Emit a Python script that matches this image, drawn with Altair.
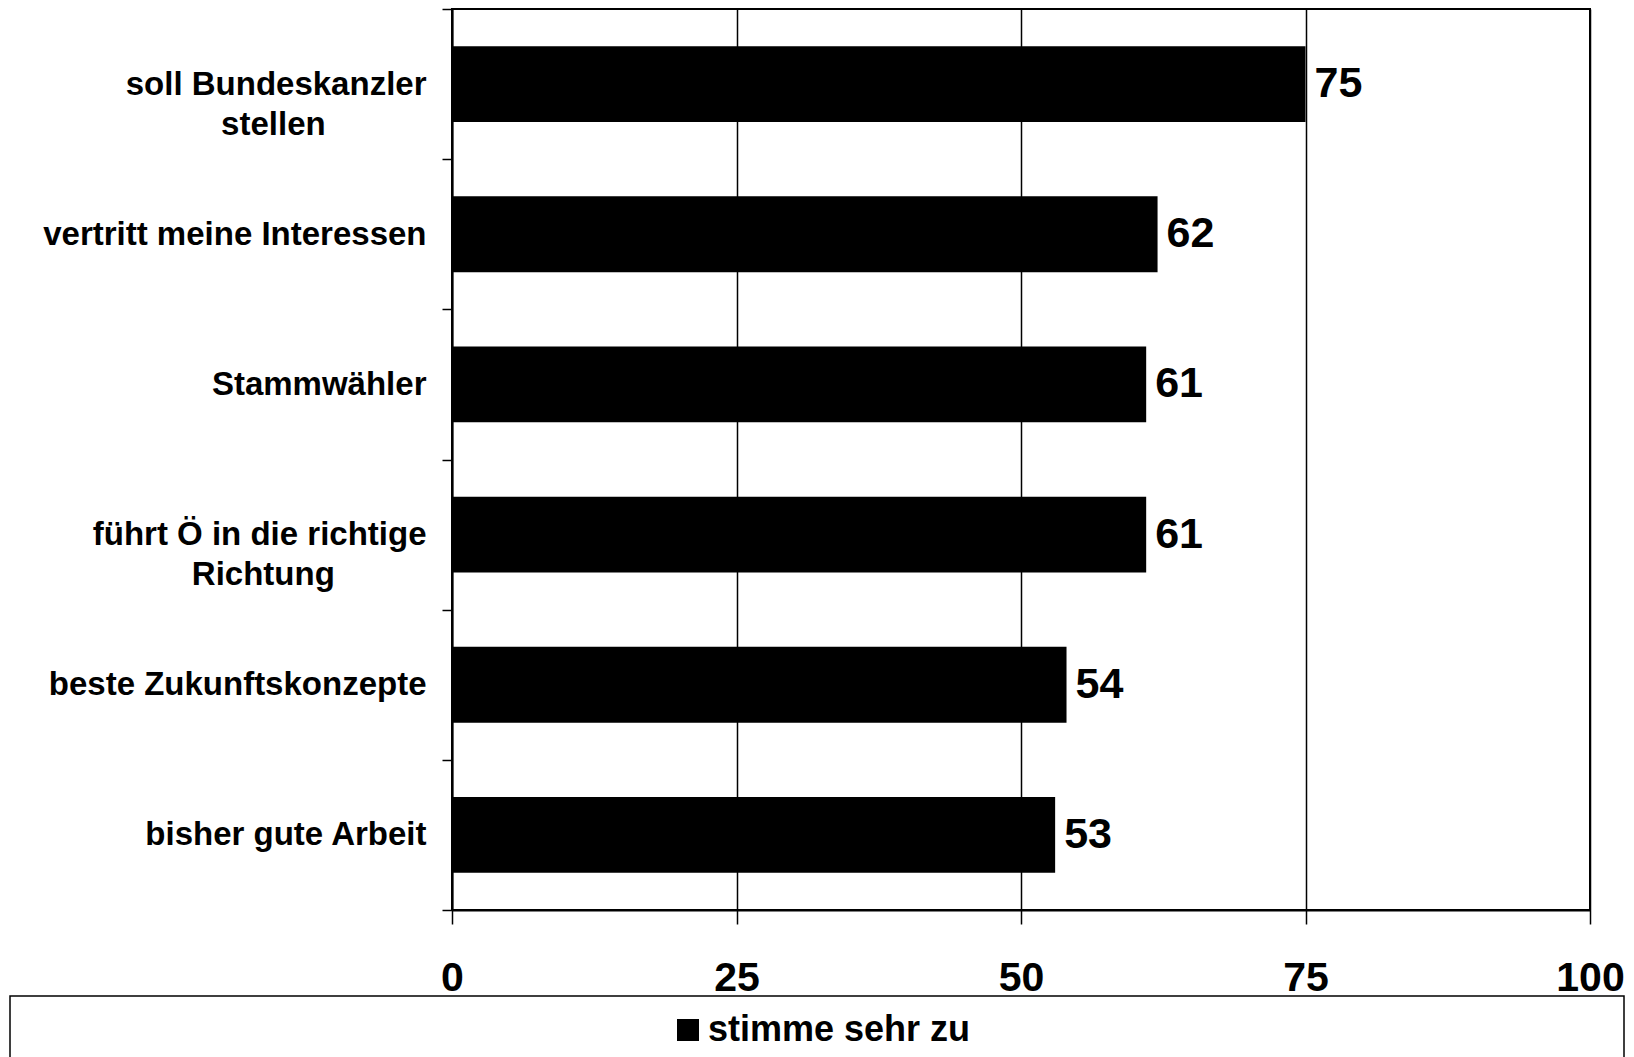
import altair as alt
import pandas as pd

categories = [
    "soll Bundeskanzler\nstellen",
    "vertritt meine Interessen",
    "Stammwähler",
    "führt Ö in die richtige\nRichtung",
    "beste Zukunftskonzepte",
    "bisher gute Arbeit",
]
values = [75, 62, 61, 61, 54, 53]
series_name = "stimme sehr zu"
x_ticks = [0, 25, 50, 75, 100]

df = pd.DataFrame({
    "Kategorie": categories,
    "Wert": values,
    "Serie": [series_name] * len(values),
})

FONT = "Liberation Sans"
NB = "\u00a0"
ZW = "\u200b"  # keeps trailing non-breaking spaces from being trimmed

# multi-line labels: second line padded so it sits centred under the first
label_expr = (
    "indexof(datum.label, 'Bundeskanzler') >= 0 ? "
    "[split(datum.label, '\\n')[0], split(datum.label, '\\n')[1] + '" + NB * 11 + ZW + "'] : "
    "indexof(datum.label, 'Richtung') >= 0 ? "
    "[split(datum.label, '\\n')[0], split(datum.label, '\\n')[1] + '" + NB * 10 + ZW + "'] : datum.label"
)

y_enc = alt.Y(
    "Kategorie:N", sort=categories, title=None,
    scale=alt.Scale(paddingInner=0, paddingOuter=0),
    axis=alt.Axis(
        tickBand="extent", domainColor="black", domainWidth=2,
        tickColor="black", tickWidth=1.5, tickSize=10,
        labelFont=FONT, labelFontWeight="bold", labelFontSize=33,
        labelColor="black", labelLineHeight=40, labelLimit=600,
        labelExpr=label_expr, labelPadding=16, labelAlign="right",
    ),
)

x_enc = alt.X(
    "Wert:Q", title=None,
    scale=alt.Scale(domain=[0, 100], nice=False, zero=True),
    axis=alt.Axis(
        values=x_ticks, grid=True, gridColor="black", gridWidth=1.5, gridOpacity=1,
        domainColor="black", domainWidth=2, tickColor="black", tickWidth=1.5, tickSize=14,
        labelFont=FONT, labelFontSize=41, labelFontWeight="bold", labelColor="black",
        labelPadding=34, labelFlush=False, labelOverlap=False,
    ),
)

bars = alt.Chart(df).mark_bar(height=alt.RelativeBandSize(band=0.505)).encode(
    x=x_enc,
    y=y_enc,
    color=alt.Color(
        "Serie:N", scale=alt.Scale(range=["black"]),
        legend=alt.Legend(
            title=None, orient="none", legendX=218, legendY=1003,
            symbolType="square", symbolSize=484, symbolFillColor="black", symbolStrokeWidth=0,
            labelFont=FONT, labelFontSize=36, labelFontWeight="bold", labelColor="black",
            labelOffset=2, labelLimit=600, padding=0,
        ),
    ),
)

labels = alt.Chart(df).mark_text(
    align="left", baseline="middle", dx=9, font=FONT, fontSize=43,
    fontWeight="bold", color="black",
).encode(x=x_enc, y=y_enc, text="Wert:Q")

frame = alt.Chart(alt.Data(values=[{"a": 1}])).mark_rect(
    fill="transparent", stroke="black", strokeWidth=1.5,
).encode(
    x=alt.value(-442), x2=alt.value(1172), y=alt.value(987), y2=alt.value(1200),
)

chart = alt.layer(bars, labels, frame).properties(
    width=1138, height=901,
    autosize=alt.AutoSizeParams(type="none"),
    padding={"left": 444, "top": 1, "right": 36, "bottom": 147},
).configure_view(stroke="black", strokeWidth=2)

chart.save("out.html", embed_options={"renderer": "svg", "actions": False})
